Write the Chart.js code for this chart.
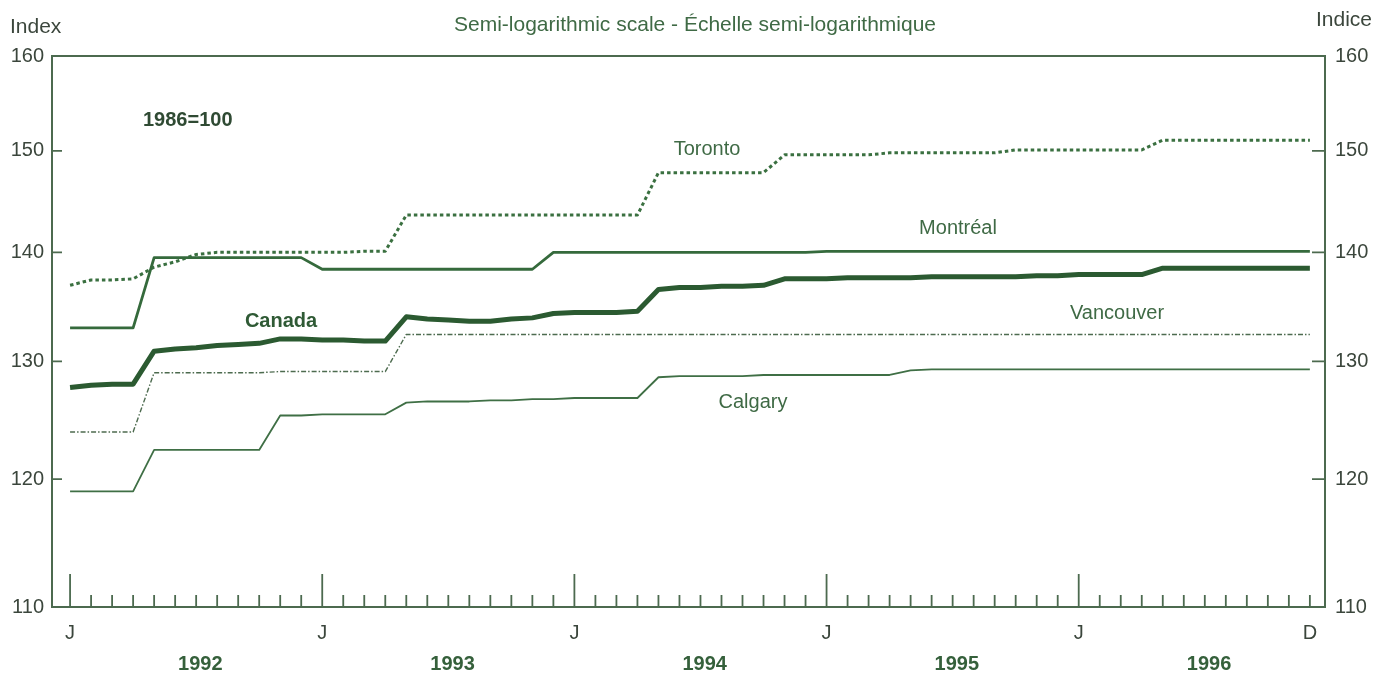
<!DOCTYPE html>
<html>
<head>
<meta charset="utf-8">
<script src="https://cdn.jsdelivr.net/npm/chart.js@4.4.1/dist/chart.umd.min.js"></script>
<style>
html, body { margin: 0; padding: 0; background: #fff; }
#wrap { width: 1384px; height: 678px; position: relative; }
</style>
</head>
<body>
<div id="wrap"><canvas id="rentChart"></canvas></div>
<script>
// ==================== DATA ====================
// monthly index values, J 1992 .. D 1996 (60 months), 1986=100
const years = [1992, 1993, 1994, 1995, 1996];
const monthTicks = [0, 12, 24, 36, 48, 59];
const yTicks = [110, 120, 130, 140, 150, 160];

const toronto = [136.9, 137.4, 137.4, 137.5, 138.6, 139.1, 139.8, 140.0, 140.0, 140.0, 140.0, 140.0,
                 140.0, 140.0, 140.1, 140.1, 143.6, 143.6, 143.6, 143.6, 143.6, 143.6, 143.6, 143.6,
                 143.6, 143.6, 143.6, 143.6, 147.8, 147.8, 147.8, 147.8, 147.8, 147.8, 149.6, 149.6,
                 149.6, 149.6, 149.6, 149.8, 149.8, 149.8, 149.8, 149.8, 149.8, 150.1, 150.1, 150.1,
                 150.1, 150.1, 150.1, 150.1, 151.1, 151.1, 151.1, 151.1, 151.1, 151.1, 151.1, 151.1];
const montreal = [133.0, 133.0, 133.0, 133.0, 139.5, 139.5, 139.5, 139.5, 139.5, 139.5, 139.5, 139.5,
                  138.4, 138.4, 138.4, 138.4, 138.4, 138.4, 138.4, 138.4, 138.4, 138.4, 138.4, 140.0,
                  140.0, 140.0, 140.0, 140.0, 140.0, 140.0, 140.0, 140.0, 140.0, 140.0, 140.0, 140.0,
                  140.1, 140.1, 140.1, 140.1, 140.1, 140.1, 140.1, 140.1, 140.1, 140.1, 140.1, 140.1,
                  140.1, 140.1, 140.1, 140.1, 140.1, 140.1, 140.1, 140.1, 140.1, 140.1, 140.1, 140.1];
const canada = [127.7, 127.9, 128.0, 128.0, 130.9, 131.1, 131.2, 131.4, 131.5, 131.6, 132.0, 132.0,
                131.9, 131.9, 131.8, 131.8, 134.0, 133.8, 133.7, 133.6, 133.6, 133.8, 133.9, 134.3,
                134.4, 134.4, 134.4, 134.5, 136.5, 136.7, 136.7, 136.8, 136.8, 136.9, 137.5, 137.5,
                137.5, 137.6, 137.6, 137.6, 137.6, 137.7, 137.7, 137.7, 137.7, 137.7, 137.8, 137.8,
                137.9, 137.9, 137.9, 137.9, 138.5, 138.5, 138.5, 138.5, 138.5, 138.5, 138.5, 138.5];
const vancouver = [123.9, 123.9, 123.9, 123.9, 129.0, 129.0, 129.0, 129.0, 129.0, 129.0, 129.1, 129.1,
                   129.1, 129.1, 129.1, 129.1, 132.4, 132.4, 132.4, 132.4, 132.4, 132.4, 132.4, 132.4,
                   132.4, 132.4, 132.4, 132.4, 132.4, 132.4, 132.4, 132.4, 132.4, 132.4, 132.4, 132.4,
                   132.4, 132.4, 132.4, 132.4, 132.4, 132.4, 132.4, 132.4, 132.4, 132.4, 132.4, 132.4,
                   132.4, 132.4, 132.4, 132.4, 132.4, 132.4, 132.4, 132.4, 132.4, 132.4, 132.4, 132.4];
const calgary = [119.0, 119.0, 119.0, 119.0, 122.4, 122.4, 122.4, 122.4, 122.4, 122.4, 125.3, 125.3,
                 125.4, 125.4, 125.4, 125.4, 126.4, 126.5, 126.5, 126.5, 126.6, 126.6, 126.7, 126.7,
                 126.8, 126.8, 126.8, 126.8, 128.6, 128.7, 128.7, 128.7, 128.7, 128.8, 128.8, 128.8,
                 128.8, 128.8, 128.8, 128.8, 129.2, 129.3, 129.3, 129.3, 129.3, 129.3, 129.3, 129.3,
                 129.3, 129.3, 129.3, 129.3, 129.3, 129.3, 129.3, 129.3, 129.3, 129.3, 129.3, 129.3];

// ==================== STYLE ====================
const FONT = 'Liberation Sans, Arial, sans-serif';
const axisText = '#3b463c';
const seriesText = '#3f6a45';
const frameColor = '#4c6a4f';

const pts = arr => arr.map((v, i) => ({ x: i, y: v }));

// frame, inner ticks and text labels
const decor = {
    id: 'decor',
    afterDraw(chart) {
        const { ctx, chartArea: a, scales: { x, y } } = chart;
        ctx.save();
        ctx.strokeStyle = frameColor;
        ctx.lineWidth = 2;
        ctx.strokeRect(a.left, a.top, a.right - a.left, a.bottom - a.top);

        ctx.lineWidth = 1.8;
        ctx.beginPath();
        for (let i = 0; i < 60; i++) {
            const px = x.getPixelForValue(i);
            const len = i % 12 === 0 ? 33 : 12;
            ctx.moveTo(px, a.bottom);
            ctx.lineTo(px, a.bottom - len);
        }
        yTicks.slice(1, -1).forEach(v => {
            const py = y.getPixelForValue(v);
            ctx.moveTo(a.left, py); ctx.lineTo(a.left + 10, py);
            ctx.moveTo(a.right - 13, py); ctx.lineTo(a.right, py);
        });
        ctx.stroke();

        const text = (s, px, py, font, color, align) => {
            ctx.font = font;
            ctx.fillStyle = color;
            ctx.textAlign = align || 'center';
            ctx.textBaseline = 'middle';
            ctx.fillText(s, px, py);
        };
        text('Index', 10, 27, '21px ' + FONT, axisText, 'left');
        text('Indice', 1316, 20, '21px ' + FONT, axisText, 'left');
        text('Semi-logarithmic scale - Échelle semi-logarithmique', 695, 25, '21px ' + FONT, seriesText);
        text('1986=100', 143, 120, 'bold 20px ' + FONT, '#2f4a33', 'left');
        text('Toronto', 707, 149, '20px ' + FONT, seriesText);
        text('Montréal', 958, 228, '20px ' + FONT, seriesText);
        text('Canada', 281, 321, 'bold 20px ' + FONT, '#2f5a35');
        text('Vancouver', 1117, 313, '20px ' + FONT, seriesText);
        text('Calgary', 753, 402, '20px ' + FONT, seriesText);
        years.forEach((yr, k) => {
            text(String(yr), x.getPixelForValue(12 * k + 6.2), 664, 'bold 20px ' + FONT, '#35603b');
        });
        ctx.restore();
    }
};

const logAxis = (position, padding) => ({
    type: 'logarithmic',
    position,
    min: 110,
    max: 160,
    afterBuildTicks: s => { s.ticks = yTicks.map(v => ({ value: v })); },
    afterFit: s => { s.width = position === 'left' ? 52 : 59; },
    grid: { display: false, drawTicks: false },
    border: { display: false },
    ticks: { color: axisText, font: { family: FONT, size: 20 }, padding, callback: v => String(v) }
});

const ctx = document.getElementById('rentChart').getContext('2d');
const rentChart = new Chart(ctx, {
    type: 'line',
    data: {
        datasets: [
            { label: 'Canada', data: pts(canada), borderColor: '#2b5a31', borderWidth: 5, order: 0 },
            { label: 'Montréal', data: pts(montreal), borderColor: '#356a3c', borderWidth: 2.8, order: 1 },
            { label: 'Toronto', data: pts(toronto), borderColor: '#3a7040', borderWidth: 3, borderDash: [3.5, 3], order: 2 },
            { label: 'Vancouver', data: pts(vancouver), borderColor: '#4d6b4f', borderWidth: 1.4, borderDash: [5, 2, 1.5, 2], order: 3 },
            { label: 'Calgary', data: pts(calgary), borderColor: '#3f6f45', borderWidth: 1.8, order: 4 }
        ]
    },
    options: {
        responsive: true,
        maintainAspectRatio: false,
        animation: false,
        layout: { padding: { top: 56, left: 0, right: 0, bottom: 0 } },
        elements: { point: { radius: 0 }, line: { tension: 0, borderJoinStyle: 'round' } },
        plugins: { legend: { display: false }, tooltip: { enabled: false } },
        scales: {
            x: {
                type: 'linear',
                min: -0.86,
                max: 59.72,
                afterBuildTicks: s => { s.ticks = monthTicks.map(v => ({ value: v })); },
                afterFit: s => { s.height = 71; },
                grid: { display: false, drawTicks: false },
                border: { display: false },
                ticks: {
                    autoSkip: false, maxRotation: 0, padding: 14,
                    color: axisText, font: { family: FONT, size: 20 },
                    callback: v => v === 59 ? 'D' : 'J'
                }
            },
            y: logAxis('left', 8),
            y2: logAxis('right', 10)
        }
    },
    plugins: [decor]
});
</script>
</body>
</html>
